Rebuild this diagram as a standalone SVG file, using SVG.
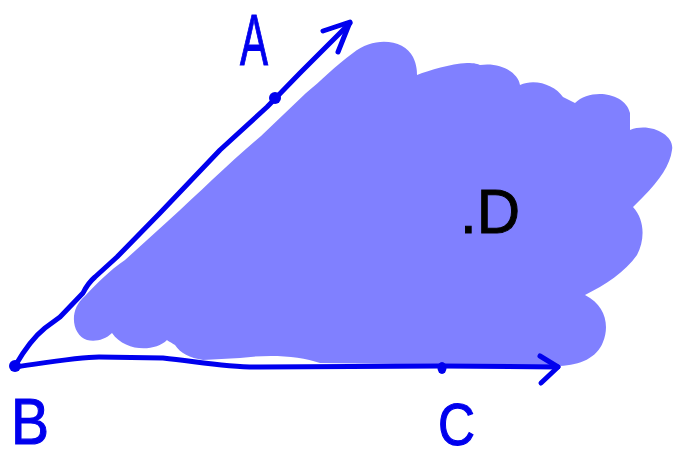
<svg xmlns="http://www.w3.org/2000/svg" width="673" height="458" viewBox="0 0 673 458">
  <style>
    .ray { fill: none; stroke: #0000ee; stroke-width: 5; stroke-linecap: round; stroke-linejoin: round; }
    .dot { fill: #0000ee; }
    .lbl { font-family: "Liberation Sans", Arial, sans-serif; fill: #0000ee; stroke: #0000ee; stroke-width: 1.2; }
    .region { fill: #8080ff; stroke: none; }
  </style>
  <rect width="673" height="458" fill="#ffffff"/>
  <g id="region">
    <path class="region" d="M 87,340 C 72,335 68,310 85,296 C 95,285 110,270 125,260 L 168,221 C 201,191 231,161 261,136 L 306,93 C 321,81 336,65 353,53 C 375,35 405,40 413,57 C 417,65 417,72 417,75 C 430,70 450,64 467,63 C 475,63 478,64 480,65 C 500,62 518,72 520,85 C 535,78 555,85 563,97 L 575,103 C 590,88 625,92 630,113 L 630,130 C 650,122 675,135 672,150 C 670,165 660,180 643,197 L 633,207 C 645,220 645,240 637,255 C 625,272 605,285 585,295 C 605,305 610,325 603,342 C 597,358 580,365 560,366 L 320,363 C 300,356 270,354 240,358 L 203,360 C 190,358 180,353 175,345 C 170,342 168,341 167,340 C 155,352 125,352 112,333 C 105,340 95,342 87,340 Z"/>
  </g>
  <g id="connectors">
    <path class="ray" d="M 15,366 Q 30,340 45,328 L 60,317 L 83,293 Q 88,283 95,277 L 117,257 L 160,213 L 220,150 L 267,107 L 300,73 L 350,23"/>
    <path class="ray" d="M 323,31 L 350,22 L 338,52"/>
    <path class="ray" d="M 15,367 C 50,362 80,357 99,357 L 163,358 C 200,362 230,368 260,367 L 442,366 L 558,367"/>
    <path class="ray" d="M 540,356 L 558,367 L 541,383"/>
  </g>
  <g id="A">
    <circle class="dot" cx="275" cy="98" r="6"/>
    <text class="lbl" x="240" y="65" font-size="73" textLength="28" lengthAdjust="spacingAndGlyphs">A</text>
  </g>
  <g id="B">
    <circle class="dot" cx="15" cy="366" r="6"/>
    <text class="lbl" x="11" y="444" font-size="64" textLength="38" lengthAdjust="spacingAndGlyphs">B</text>
  </g>
  <g id="C">
    <ellipse class="dot" cx="442" cy="368" rx="4.5" ry="6"/>
    <text class="lbl" x="438" y="445" font-size="60" textLength="37" lengthAdjust="spacingAndGlyphs">C</text>
  </g>
  <g id="D">
    <text x="460" y="233" font-family="'Liberation Sans', Arial, sans-serif" font-size="63" fill="#000000" stroke="#000000" stroke-width="1" textLength="60" lengthAdjust="spacingAndGlyphs">.D</text>
  </g>
</svg>
